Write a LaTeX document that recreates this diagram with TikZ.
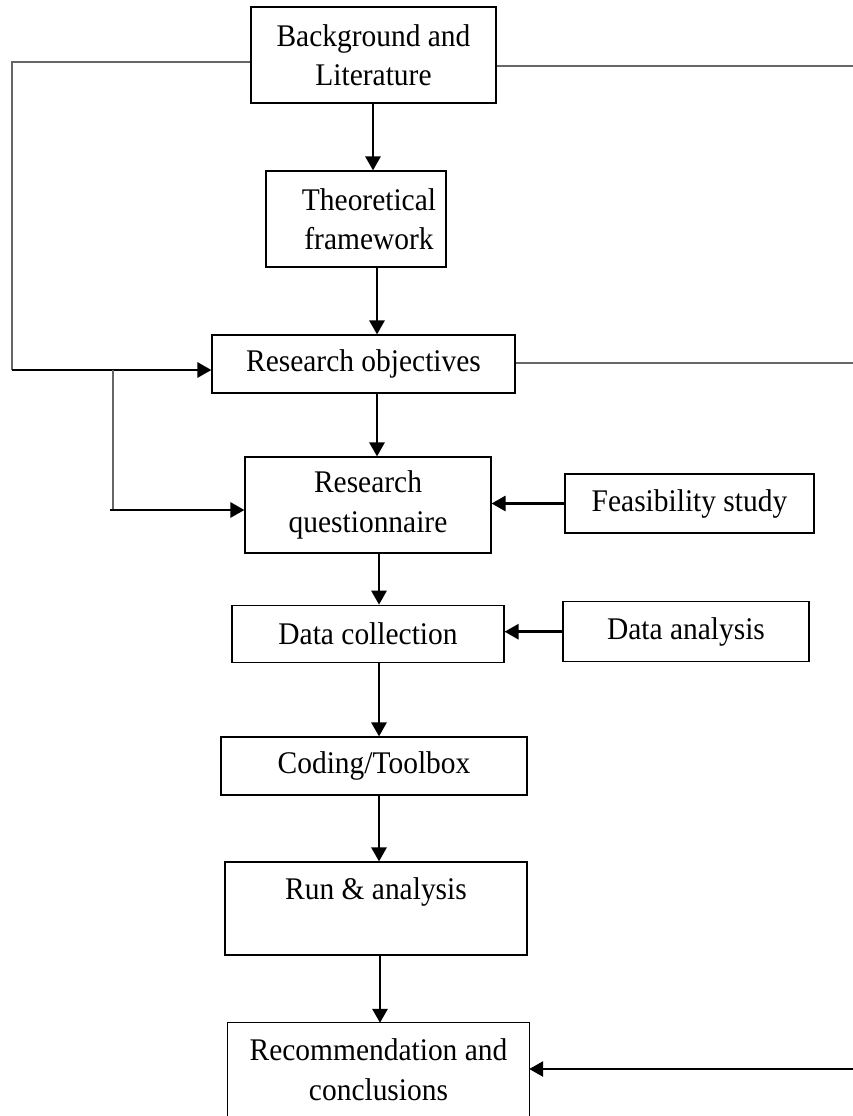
\documentclass[tikz,border=0pt]{standalone}
\usepackage{fontspec}
\setmainfont{Liberation Serif}[FakeStretch=0.935]
\usetikzlibrary{arrows.meta}

\begin{document}
\begin{tikzpicture}[x=1pt,y=-1pt,
  stepbox/.style={draw=black, line width=1.1pt, inner sep=0pt, align=center,
    font=\fontsize{31.5}{39.5}\selectfont},
  openbox/.style={inner sep=0pt, align=center, font=\fontsize{31.5}{39.5}\selectfont},
  boxline/.style={draw=black, line width=1.1pt},
  flow/.style={line width=2.8pt, -{Triangle[length=14pt,width=15pt]}},
  link/.style={line width=1.3pt, draw=black!60}]
\useasboundingbox (0,0) rectangle (853,1116);

% main chain of steps
\node[stepbox, minimum width=245pt, minimum height=96pt] (bg)  at (373.5,55)  {Background and\\Literature};
\node[stepbox, minimum width=180pt, minimum height=96pt] (th)  at (356,219)
  {\hspace*{26pt}Theoretical\\\hspace*{26pt}framework};
\node[stepbox, minimum width=303pt, minimum height=58pt] (obj) at (363.5,364) {Research objectives};
\node[stepbox, minimum width=246pt, minimum height=96pt] (q)   at (368,505)   {Research\\questionnaire};
\node[stepbox, minimum width=272pt, minimum height=57.5pt] (dc) at (368,634)  {Data collection};
\node[stepbox, minimum width=306pt, minimum height=58pt] (cod) at (374,766)   {Coding/Toolbox};
\node[stepbox, minimum width=302pt, minimum height=93pt] (run) at (376,908.5) {Run \& analysis\\\mbox{}};
\node[openbox, minimum width=301pt, minimum height=93pt] (rec) at (378.5,1069.5) {Recommendation and\\conclusions};
\draw[boxline] (rec.south west) -- (rec.north west) -- (rec.north east) -- (rec.south east);

% side inputs
\node[stepbox, minimum width=249pt, minimum height=59pt] (feas) at (689.5,503.5) {Feasibility study};
\node[stepbox, minimum width=246pt, minimum height=60pt] (da)   at (686,631.7)   {Data analysis};

% columns of the downward arrows
\coordinate (c1) at (373,0);
\coordinate (c2) at (377,0);
\coordinate (c3) at (377,0);
\coordinate (c4) at (379,0);
\coordinate (c5) at (379,0);
\coordinate (c6) at (379,0);
\coordinate (c7) at (380,0);

\draw[flow] (bg.south -| c1)  -- (th.north -| c1);
\draw[flow] (th.south -| c2)  -- (obj.north -| c2);
\draw[flow] (obj.south -| c3) -- (q.north -| c3);
\draw[flow] (q.south -| c4)   -- (dc.north -| c4);
\draw[flow] (dc.south -| c5)  -- (cod.north -| c5);
\draw[flow] (cod.south -| c6) -- (run.north -| c6);
\draw[flow] (run.south -| c7) -- (rec.north -| c7);

% side inputs into the chain
\draw[flow] (feas.west) -- (feas.west -| q.east);
\draw[flow] (da.west) -- (da.west -| dc.east);

% feedback loop on the left
\coordinate (lt) at (12,62);
\coordinate (lb) at (12,370);
\coordinate (bt) at (113,370);
\coordinate (bb) at (113,510);
\coordinate (bs) at (110,510);
\draw[link] (lt -| bg.west) -- (lt) -- (lb);
\draw[flow] (lb) -- (lb -| obj.west);
\draw[link] (bt) -- (bb);
\draw[flow] (bs) -- (bs -| q.west);

% lines running off to the right
\coordinate (rt) at (853,66);
\coordinate (rm) at (853,363);
\coordinate (re) at (853,1069);
\draw[link] (rt -| bg.east) -- (rt);
\draw[link] (rm -| obj.east) -- (rm);
\draw[flow] (re) -- (re -| rec.east);
\end{tikzpicture}
\end{document}
